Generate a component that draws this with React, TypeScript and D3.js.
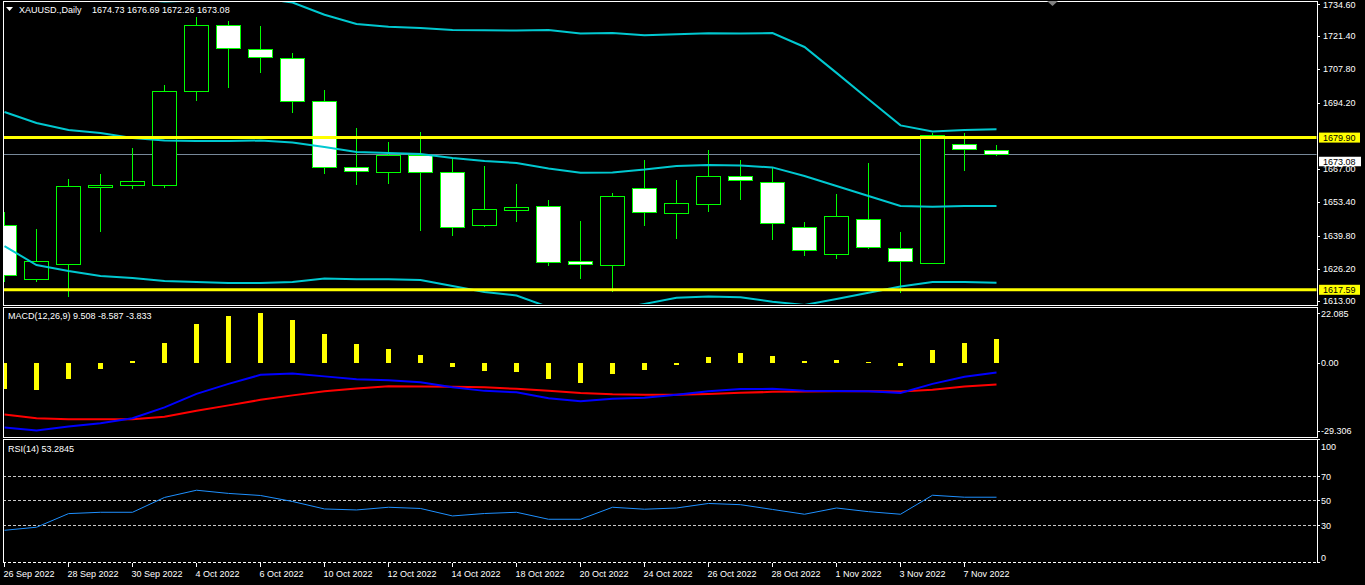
import React from "react";
import * as d3 from "d3";

const dates = [
  "26 Sep 2022", "27 Sep 2022", "28 Sep 2022", "29 Sep 2022", "30 Sep 2022", "3 Oct 2022",
  "4 Oct 2022", "5 Oct 2022", "6 Oct 2022", "7 Oct 2022", "10 Oct 2022", "11 Oct 2022",
  "12 Oct 2022", "13 Oct 2022", "14 Oct 2022", "17 Oct 2022", "18 Oct 2022", "19 Oct 2022",
  "20 Oct 2022", "21 Oct 2022", "24 Oct 2022", "25 Oct 2022", "26 Oct 2022", "27 Oct 2022",
  "28 Oct 2022", "31 Oct 2022", "1 Nov 2022", "2 Nov 2022", "3 Nov 2022", "4 Nov 2022",
  "7 Nov 2022", "8 Nov 2022",
];

const open = [1644.1, 1622.0, 1628.15, 1659.7, 1660.5, 1660.5, 1699.0, 1726.0, 1716.2, 1712.5, 1694.9, 1667.7, 1665.7, 1672.8, 1665.7, 1644.0, 1650.1, 1651.8, 1629.25, 1627.6, 1659.1, 1648.9, 1652.6, 1664.1, 1661.6, 1643.2, 1632.1, 1646.5, 1634.6, 1628.4, 1677.2, 1674.73];
const high = [1649.4, 1642.5, 1663.0, 1665.0, 1675.6, 1701.4, 1729.3, 1727.6, 1725.6, 1714.5, 1699.4, 1683.8, 1678.1, 1682.2, 1671.4, 1668.3, 1660.9, 1654.4, 1645.75, 1657.2, 1670.7, 1662.5, 1674.8, 1670.7, 1667.3, 1645.3, 1656.8, 1669.5, 1641.25, 1681.7, 1681.7, 1676.69];
const low = [1620.8, 1620.8, 1614.6, 1641.2, 1658.9, 1659.3, 1694.9, 1700.2, 1706.3, 1690.0, 1665.0, 1660.6, 1661.0, 1641.8, 1639.7, 1643.4, 1645.5, 1627.4, 1622.1, 1616.8, 1643.8, 1638.3, 1649.6, 1654.5, 1638.1, 1631.5, 1630.3, 1634.4, 1616.4, 1628.0, 1666.35, 1672.26];
const close = [1623.6, 1629.4, 1660.1, 1660.5, 1662.1, 1699.0, 1726.0, 1716.6, 1712.9, 1694.9, 1667.9, 1666.1, 1672.8, 1665.7, 1643.2, 1650.5, 1651.4, 1628.8, 1628.0, 1655.9, 1649.3, 1653.0, 1664.1, 1662.4, 1644.8, 1633.8, 1647.7, 1635.0, 1629.25, 1680.8, 1675.1, 1673.08];

const bbUpper = [1745.3, 1744.1, 1740.7, 1740.4, 1736.5, 1735.6, 1736.0, 1736.6, 1737.0, 1735.2, 1730.2, 1726.4, 1725.3, 1724.8, 1724.0, 1723.9, 1723.75, 1724.0, 1722.5, 1722.7, 1721.8, 1722.25, 1722.6, 1722.5, 1722.7, 1717.0, 1706.4, 1695.6, 1684.9, 1682.4, 1683.0, 1683.3];
const bbMiddle = [1690.4, 1685.9, 1683.0, 1681.8, 1679.7, 1678.7, 1678.5, 1678.5, 1678.7, 1677.9, 1676.05, 1674.0, 1673.6, 1673.2, 1671.55, 1670.3, 1669.5, 1667.25, 1665.5, 1665.6, 1666.8, 1668.3, 1668.7, 1668.5, 1667.7, 1664.2, 1660.1, 1656.0, 1651.9, 1651.6, 1651.9, 1651.9];
const bbLower = [1635.5, 1627.7, 1625.3, 1623.2, 1622.4, 1621.2, 1620.8, 1620.4, 1620.4, 1620.8, 1622.2, 1621.9, 1621.9, 1621.6, 1619.1, 1616.7, 1615.25, 1610.5, 1608.5, 1609.3, 1611.8, 1614.35, 1614.8, 1614.5, 1612.7, 1611.4, 1613.8, 1616.4, 1618.9, 1620.8, 1620.8, 1620.5];

const macdHist = [-10.2, -10.7, -6.3, -2.4, 0.8, 7.9, 15.4, 18.6, 19.8, 17.0, 11.6, 7.6, 5.5, 3.16, -1.58, -3.16, -3.56, -6.32, -7.9, -4.35, -2.77, -0.79, 2.37, 3.95, 2.77, 0.79, 1.19, 0.4, -1.19, 5.14, 7.9, 9.508];
const macdMain = [-25.57, -26.76, -25.18, -23.83, -21.86, -17.59, -12.25, -8.3, -4.74, -4.23, -5.34, -6.52, -6.92, -7.63, -9.68, -11.07, -11.66, -14.03, -15.22, -14.23, -13.83, -12.65, -11.26, -10.36, -10.28, -10.99, -11.15, -11.19, -11.86, -8.3, -5.53, -3.833];
const macdSignal = [-20.43, -21.86, -22.25, -22.25, -22.25, -21.34, -18.97, -16.8, -14.62, -12.85, -11.26, -10.16, -9.29, -9.37, -9.49, -9.68, -10.28, -11.07, -11.94, -12.45, -12.65, -12.65, -12.33, -11.86, -11.46, -11.3, -11.19, -11.23, -11.3, -10.67, -9.37, -8.587];

const rsi = [26.3, 28.8, 39.9, 41.0, 41.0, 53.1, 59.0, 56.4, 54.7, 49.8, 43.7, 42.9, 45.1, 44.1, 38.0, 40.0, 41.0, 35.3, 35.3, 45.1, 43.5, 44.5, 48.2, 47.2, 43.3, 39.4, 44.5, 41.5, 39.4, 54.9, 53.3, 53.2845];

const priceTicks = [1734.6, 1721.4, 1707.8, 1694.2, 1667.0, 1653.4, 1639.8, 1626.2, 1613.0];
const levelLines = [1679.9, 1617.59];
const bidPrice = 1673.08;
const macdTicks = [22.085, 0, -29.306];
const macdTickLabels = ["22.085", "0.00", "-29.306"];
const rsiTicks = [100, 70, 50, 30, 0];
const rsiLevels = [70, 50, 30, 0];

const FONT = "'Liberation Sans', Arial, sans-serif";
const FS = 9;
const L = 3;
const R = 1317;
const MAIN = { top: 1, bottom: 304.5 };
const MACDP = { top: 306.5, bottom: 437 };
const RSIP = { top: 439, bottom: 562.5 };

export default function App() {
  const n = dates.length;
  const x = d3.scaleLinear().domain([0, n - 1]).range([4.5, 4.5 + 32 * (n - 1)]);
  const y = d3.scaleLinear().domain([1613, 1734.6]).range([301, 4]);
  const ym = d3.scaleLinear().domain([-29.306, 22.085]).range([437, 307]);
  const yr = d3.scaleLinear().domain([0, 100]).range([562.5, 440]);

  const bandLine = d3.line<number>().x((_, i) => x(i)).y((v) => y(v));
  const macdLineGen = d3.line<number>().x((_, i) => x(i)).y((v) => ym(v));
  const rsiLineGen = d3.line<number>().x((_, i) => x(i)).y((v) => yr(v));

  const txt = { fill: "#ffffff", fontFamily: FONT, fontSize: FS } as const;
  const clampY = (v: number, a: number, b: number) => Math.max(a, Math.min(b, v));

  return (
    <svg
      width={1365}
      height={585}
      style={{ position: "fixed", left: 0, top: 0, background: "#000", display: "block" }}
    >
      <defs>
        <clipPath id="clipMain">
          <rect x={L + 0.5} y={MAIN.top + 0.5} width={R - L - 1} height={MAIN.bottom - MAIN.top - 1} />
        </clipPath>
        <clipPath id="clipMacd">
          <rect x={L + 0.5} y={MACDP.top + 0.5} width={R - L - 1} height={MACDP.bottom - MACDP.top - 1} />
        </clipPath>
        <clipPath id="clipRsi">
          <rect x={L + 0.5} y={RSIP.top + 0.5} width={R - L - 1} height={RSIP.bottom - RSIP.top - 1} />
        </clipPath>
      </defs>
      <rect x={0} y={0} width={1365} height={585} fill="#000" />

      {/* MAIN PANEL */}
      <g clipPath="url(#clipMain)">
        <line x1={L} x2={R} y1={Math.round(y(bidPrice)) + 0.5} y2={Math.round(y(bidPrice)) + 0.5} stroke="#778899" strokeWidth={1} />
        {dates.map((d, i) => {
          const xc = x(i);
          const o = open[i], c = close[i];
          const top = Math.round(y(Math.max(o, c))) + 0.5;
          const bot = Math.round(y(Math.min(o, c))) + 0.5;
          return (
            <g key={d} shapeRendering="crispEdges">
              <line x1={xc} x2={xc} y1={Math.round(y(high[i]))} y2={Math.round(y(low[i]))} stroke="#00ff00" strokeWidth={1} />
              <rect x={xc - 12} y={top} width={24} height={Math.max(1, bot - top)} fill={c < o ? "#ffffff" : "#000000"} stroke="#00ff00" strokeWidth={1} />
            </g>
          );
        })}
        <path d={bandLine(bbUpper) || ""} fill="none" stroke="#00c8d0" strokeWidth={2} />
        <path d={bandLine(bbMiddle) || ""} fill="none" stroke="#00c8d0" strokeWidth={2} />
        <path d={bandLine(bbLower) || ""} fill="none" stroke="#00c8d0" strokeWidth={2} />
        {levelLines.map((v) => (
          <line key={v} x1={L} x2={R} y1={y(v)} y2={y(v)} stroke="#ffff00" strokeWidth={3} />
        ))}
      </g>
      <rect x={L + 0.5} y={MAIN.top + 0.5} width={R - L} height={MAIN.bottom - MAIN.top} fill="none" stroke="#fff" strokeWidth={1} shapeRendering="crispEdges" />
      <polygon points="6,7 13,7 9.5,11" fill="#fff" />
      <text x={19} y={10} dominantBaseline="central" {...txt}>XAUUSD.,Daily</text>
      <text x={92} y={10} dominantBaseline="central" {...txt}>1674.73 1676.69 1672.26 1673.08</text>
      <polygon points="1047,1 1058,1 1052.5,6" fill="#808080" />

      {/* MACD PANEL */}
      <g clipPath="url(#clipMacd)">
        {macdHist.map((v, i) => {
          const y0 = ym(0), y1 = ym(v);
          return (
            <rect key={i} x={x(i) - 2.5} y={Math.min(y0, y1)} width={5} height={Math.abs(y1 - y0)} fill="#ffff00" shapeRendering="crispEdges" />
          );
        })}
        <path d={macdLineGen(macdSignal) || ""} fill="none" stroke="#ff0000" strokeWidth={2} />
        <path d={macdLineGen(macdMain) || ""} fill="none" stroke="#0000ff" strokeWidth={2} />
      </g>
      <rect x={L + 0.5} y={MACDP.top + 0.5} width={R - L} height={MACDP.bottom - MACDP.top} fill="none" stroke="#fff" strokeWidth={1} shapeRendering="crispEdges" />
      <text x={8} y={315.5} dominantBaseline="central" {...txt}>MACD(12,26,9) 9.508 -8.587 -3.833</text>

      {/* RSI PANEL */}
      <g clipPath="url(#clipRsi)">
        {rsiLevels.map((v) => (
          <line key={v} x1={L} x2={R} y1={Math.round(yr(v)) - 0.5} y2={Math.round(yr(v)) - 0.5} stroke="#c8c8c8" strokeWidth={1} strokeDasharray="3 2" />
        ))}
        <path d={rsiLineGen(rsi) || ""} fill="none" stroke="#1e90ff" strokeWidth={1} />
      </g>
      <path d={`M${L + 0.5},${RSIP.bottom}V${RSIP.top + 0.5}H${R + 0.5}V${RSIP.bottom + 0.5}`} fill="none" stroke="#fff" strokeWidth={1} shapeRendering="crispEdges" />
      <line x1={L} x2={R} y1={RSIP.bottom} y2={RSIP.bottom} stroke="#fff" strokeWidth={1} strokeDasharray="3 2" />
      <text x={8} y={448.5} dominantBaseline="central" {...txt}>RSI(14) 53.2845</text>

      {/* RIGHT AXIS: price */}
      {priceTicks.map((v) => (
        <g key={v}>
          <line x1={R} x2={R + 3} y1={Math.round(y(v)) + 0.5} y2={Math.round(y(v)) + 0.5} stroke="#fff" />
          <text x={1323} y={clampY(y(v), 5, 301.5)} dominantBaseline="central" {...txt}>{v.toFixed(2)}</text>
        </g>
      ))}
      {levelLines.map((v) => (
        <g key={v}>
          <rect x={1319} y={y(v) - 5} width={41} height={10} fill="#ffff00" />
          <text x={1323} y={y(v)} dominantBaseline="central" {...txt} fill="#000">{v.toFixed(2)}</text>
        </g>
      ))}
      <rect x={1319} y={y(bidPrice) + 2.5} width={42} height={9.5} fill="#ffffff" />
      <text x={1323} y={y(bidPrice) + 7.25} dominantBaseline="central" {...txt} fill="#000">{bidPrice.toFixed(2)}</text>

      {/* RIGHT AXIS: MACD */}
      {macdTicks.map((v, i) => (
        <g key={v}>
          <line x1={R} x2={R + 3} y1={Math.round(clampY(ym(v), 313, 431)) + 0.5} y2={Math.round(clampY(ym(v), 313, 431)) + 0.5} stroke="#fff" />
          <text x={1321} y={clampY(ym(v), 313.5, 430.5)} dominantBaseline="central" {...txt}>{macdTickLabels[i]}</text>
        </g>
      ))}

      {/* RIGHT AXIS: RSI */}
      {rsiTicks.map((v) => (
        <g key={v}>
          <line x1={R} x2={R + 3} y1={Math.round(yr(v)) - 0.5} y2={Math.round(yr(v)) - 0.5} stroke="#fff" />
          <text x={1321} y={clampY(yr(v), 447, 557.5)} dominantBaseline="central" {...txt}>{v}</text>
        </g>
      ))}

      {/* X AXIS */}
      {dates.map((d, i) =>
        i % 2 === 0 ? (
          <g key={d}>
            <line x1={x(i)} x2={x(i)} y1={563} y2={567} stroke="#fff" shapeRendering="crispEdges" />
            <text x={x(i) - 1} y={573.5} dominantBaseline="central" {...txt}>{d}</text>
          </g>
        ) : null
      )}
    </svg>
  );
}
